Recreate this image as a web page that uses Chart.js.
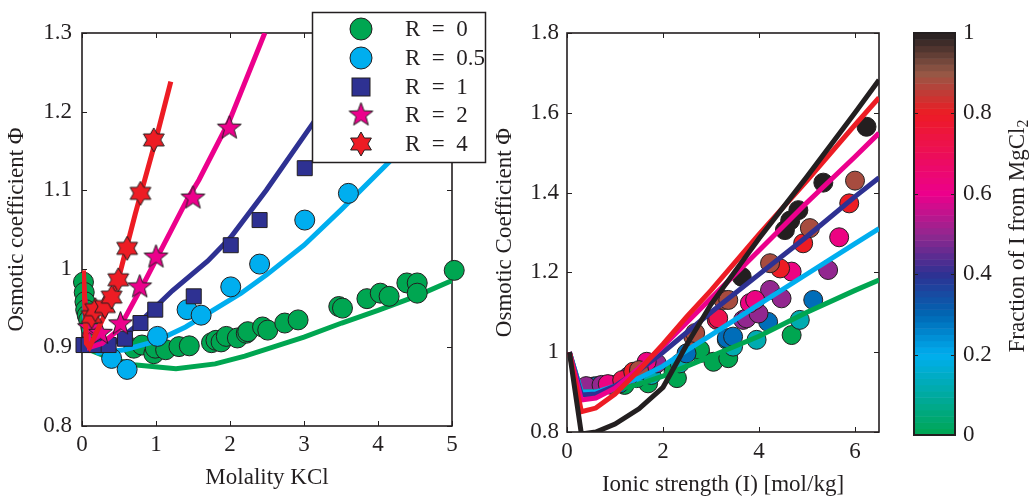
<!DOCTYPE html>
<html>
<head>
<meta charset="utf-8">
<script src="https://cdn.jsdelivr.net/npm/chart.js@4.4.1/dist/chart.umd.min.js"></script>
<style>
  html, body { margin: 0; padding: 0; background: #fff; overflow: hidden; width: 1031px; height: 497px; }
  canvas { position: absolute; top: 0; }
  #left { left: 0; }
  #right { left: 490px; }
  #cbar { left: 900px; }
</style>
</head>
<body>
<canvas id="left" width="490" height="497"></canvas>
<canvas id="right" width="410" height="510"></canvas>
<canvas id="cbar" width="131" height="497"></canvas>
<script>
// ---------- left panel: measured points (molality KCl, osmotic coefficient) ----------
const r0X = [0.02, 0.03, 0.04, 0.05, 0.07, 0.09, 0.12, 0.7, 0.81, 0.97, 0.99, 1.13, 1.31, 1.45,
             1.75, 1.81, 1.88, 1.95, 2.1, 2.22, 2.24, 2.44, 2.51, 2.74, 2.92,
             3.47, 3.52, 3.85, 4.03, 4.15, 4.39, 4.53, 4.53, 5.03];
const r0Y = [0.983, 0.97, 0.958, 0.948, 0.941, 0.935, 0.925, 0.899, 0.903, 0.892, 0.899, 0.897, 0.901, 0.902,
             0.906, 0.909, 0.907, 0.914, 0.912, 0.918, 0.92, 0.926, 0.922, 0.931, 0.935,
             0.952, 0.95, 0.962, 0.969, 0.965, 0.982, 0.982, 0.969, 0.998];
const r05X = [0.4, 0.61, 1.02, 1.42, 1.61, 2.01, 2.4, 3.01, 3.6];
const r05Y = [0.886, 0.872, 0.914, 0.948, 0.941, 0.977, 1.006, 1.062, 1.096];
const r1X = [0.02, 0.09, 0.2, 0.36, 0.58, 0.79, 0.99, 1.51, 2.01, 2.4, 3.01];
const r1Y = [0.903, 0.903, 0.903, 0.903, 0.911, 0.931, 0.948, 0.965, 1.03, 1.062, 1.128];
const r2X = [0.1, 0.25, 0.52, 0.78, 1.0, 1.5, 1.99];
const r2Y = [0.925, 0.918, 0.93, 0.977, 1.015, 1.09, 1.179];
const r4X = [0.13, 0.18, 0.31, 0.4, 0.49, 0.61, 0.79, 0.97];
const r4Y = [0.939, 0.948, 0.952, 0.964, 0.986, 1.026, 1.096, 1.164];

// left panel: model curves
const fit0X = [0.01, 0.05, 0.15, 0.36, 0.7, 1.27, 1.8, 2.2, 2.6, 3.0, 3.51, 4.0, 4.51, 5.0];
const fit0Y = [0.99, 0.915, 0.895, 0.887, 0.878, 0.873, 0.879, 0.889, 0.901, 0.913, 0.931, 0.947, 0.965, 0.985];
const fit05X = [0.01, 0.05, 0.22, 0.58, 1.0, 1.4, 2.15, 2.49, 3.0, 3.5, 4.15, 5.0];
const fit05Y = [0.99, 0.91, 0.893, 0.897, 0.908, 0.926, 0.969, 0.992, 1.03, 1.075, 1.136, 1.225];
const fit1X = [0.01, 0.08, 0.36, 0.7, 1.22, 1.7, 2.01, 2.49, 3.12, 3.6, 4.2];
const fit1Y = [0.99, 0.905, 0.9, 0.925, 0.972, 1.01, 1.04, 1.1, 1.185, 1.25, 1.33];
const fit2X = [0.01, 0.1, 0.27, 0.49, 0.86, 1.42, 1.58, 2.0, 2.47];
const fit2Y = [0.99, 0.9, 0.905, 0.922, 0.986, 1.088, 1.113, 1.19, 1.3];
const fit4X = [0.02, 0.06, 0.1, 0.2, 0.36, 0.5, 0.72, 1.0, 1.2];
const fit4Y = [0.998, 0.905, 0.9, 0.92, 0.952, 0.99, 1.07, 1.165, 1.238];

const legendLabels = ['R\u2002=\u20020', 'R\u2002=\u20020.5', 'R\u2002=\u20021', 'R\u2002=\u20022', 'R\u2002=\u20024'];
const leftXTicks = [0, 1, 2, 3, 4, 5];
const leftYTicks = [0.8, 0.9, 1, 1.1, 1.2, 1.3];

// ---------- right panel: measured points grouped by fraction of I from MgCl2 ----------
const grpFrac = [0, 0.12, 0.29, 0.5, 0.62, 0.72, 0.8, 0.88, 1];
const grpX = [
  [0.45, 0.55, 1.2, 1.69, 2.22, 2.29, 2.77, 2.77, 3.05, 3.36, 4.68],
  [0.5, 0.93, 1.45, 1.76, 2.35, 3.33, 3.46, 3.95, 4.85],
  [0.62, 1.1, 2.49, 3.33, 3.46, 4.19, 5.13],
  [0.4, 0.72, 1.28, 1.87, 3.67, 3.74, 3.99, 4.23, 4.47, 5.44],
  [0.85, 1.66, 3.81, 3.92, 4.68, 5.67],
  [1.15, 3.12, 3.15],
  [1.38, 4.44, 4.92, 5.88],
  [1.5, 2.63, 2.67, 3.26, 3.36, 4.23, 5.06, 6.0],
  [3.64, 4.54, 4.65, 4.82, 5.34, 6.24]
];
const grpY = [
  [0.912, 0.914, 0.918, 0.922, 0.951, 0.935, 0.998, 1.006, 0.976, 0.985, 1.043],
  [0.912, 0.918, 0.935, 0.943, 0.972, 1.031, 1.014, 1.031, 1.081],
  [0.915, 0.922, 0.997, 1.035, 1.039, 1.076, 1.131],
  [0.915, 0.918, 0.939, 0.972, 1.081, 1.085, 1.097, 1.156, 1.135, 1.206],
  [0.92, 0.976, 1.123, 1.131, 1.202, 1.288],
  [0.93, 1.081, 1.085],
  [0.951, 1.21, 1.273, 1.373],
  [0.955, 1.039, 1.048, 1.131, 1.131, 1.223, 1.311, 1.43],
  [1.189, 1.306, 1.33, 1.356, 1.425, 1.565]
];

// right panel: model curves
const curveFrac = [0, 0.2, 0.4, 0.6, 0.8, 1];
const curveX = [0.05, 0.3, 0.6, 1, 1.5, 2, 2.5, 3, 4, 5, 6, 6.5];
const curveY = [
  [1.0, 0.9, 0.9, 0.905, 0.92, 0.94, 0.965, 0.99, 1.04, 1.1, 1.155, 1.181],
  [1.0, 0.9, 0.9, 0.915, 0.935, 0.965, 1.005, 1.043, 1.12, 1.196, 1.272, 1.31],
  [1.0, 0.893, 0.895, 0.915, 0.955, 1.0, 1.05, 1.1, 1.195, 1.29, 1.39, 1.437],
  [1.0, 0.88, 0.885, 0.91, 0.96, 1.015, 1.075, 1.135, 1.255, 1.375, 1.49, 1.549],
  [1.0, 0.851, 0.86, 0.895, 0.955, 1.02, 1.09, 1.155, 1.295, 1.43, 1.57, 1.638],
  [1.0, 0.795, 0.8, 0.82, 0.858, 0.912, 1.02, 1.12, 1.285, 1.44, 1.6, 1.682]
];
const rightXTicks = [0, 2, 4, 6];
const rightYTicks = [0.8, 1, 1.2, 1.4, 1.6, 1.8];
const cbarTicks = [0, 0.2, 0.4, 0.6, 0.8, 1];

// colour map used for the fraction (green -> cyan -> blue -> magenta -> red -> black)
const cmapStops = [0, 0.2, 0.3, 0.4, 0.5, 0.6, 0.8, 0.9, 1];
const cmapRGB = [[0, 166, 81], [0, 174, 239], [0, 102, 179], [46, 49, 146], [146, 39, 143],
                 [236, 0, 140], [237, 28, 36], [150, 88, 70], [35, 31, 32]];

const INK = '#231f20';
const FONT = '"Liberation Serif", "Times New Roman", serif';
Chart.defaults.font.family = FONT;
Chart.defaults.font.size = 23;
Chart.defaults.color = INK;

function colorAt(f) {
  for (let i = 1; i < cmapStops.length; i++) {
    if (f <= cmapStops[i]) {
      const t = (f - cmapStops[i - 1]) / (cmapStops[i] - cmapStops[i - 1]);
      const a = cmapRGB[i - 1], b = cmapRGB[i];
      return 'rgb(' + a.map((v, k) => Math.round(v + (b[k] - v) * t)).join(',') + ')';
    }
  }
  return 'rgb(' + cmapRGB[cmapRGB.length - 1].join(',') + ')';
}

const pts = (xs, ys) => xs.map((x, i) => ({ x: x, y: ys[i] }));
const fmt = v => String(parseFloat(v.toFixed(3)));

// star markers as small canvases
function starImage(n, outer, inner, fill) {
  const s = Math.ceil(outer * 2 + 4);
  const c = document.createElement('canvas');
  c.width = s; c.height = s;
  const g = c.getContext('2d');
  g.beginPath();
  for (let i = 0; i < 2 * n; i++) {
    const r = i % 2 ? inner : outer;
    const a = -Math.PI / 2 + i * Math.PI / n;
    g.lineTo(s / 2 + r * Math.cos(a), s / 2 + r * Math.sin(a));
  }
  g.closePath();
  g.fillStyle = fill; g.fill();
  g.strokeStyle = INK; g.lineWidth = 1; g.stroke();
  return c;
}
const penta = starImage(5, 12.5, 5.2, '#ec008c');
const hexa = starImage(6, 12, 6.9, '#ed1c24');

// frame with inward ticks on all four sides
const frameTicks = {
  id: 'frameTicks',
  beforeDatasetsDraw(chart) {
    const { ctx, chartArea: a, scales: { x, y } } = chart;
    ctx.save();
    ctx.strokeStyle = INK;
    ctx.lineWidth = 1;
    ctx.beginPath();
    x.ticks.forEach(t => {
      const p = Math.round(x.getPixelForValue(t.value)) + 0.5;
      ctx.moveTo(p, a.bottom); ctx.lineTo(p, a.bottom - 5);
      ctx.moveTo(p, a.top); ctx.lineTo(p, a.top + 5);
    });
    y.ticks.forEach(t => {
      const p = Math.round(y.getPixelForValue(t.value)) + 0.5;
      ctx.moveTo(a.left, p); ctx.lineTo(a.left + 5, p);
      ctx.moveTo(a.right, p); ctx.lineTo(a.right - 5, p);
    });
    ctx.stroke();
    ctx.lineWidth = 1.6;
    ctx.strokeRect(a.left, a.top, a.right - a.left, a.bottom - a.top);
    ctx.restore();
  }
};

function axes(xTicks, yTicks, xr, yr, xTitle, yTitle, sz) {
  return {
    x: {
      type: 'linear', min: xr[0], max: xr[1],
      afterBuildTicks: s => { s.ticks = xTicks.map(v => ({ value: v })); },
      afterFit: s => { s.height = sz.xh; },
      grid: { display: false, drawTicks: false },
      border: { display: false },
      ticks: { padding: sz.xpad, callback: fmt, maxRotation: 0 },
      title: { display: true, text: xTitle, padding: { top: 0, bottom: sz.xtp } }
    },
    y: {
      type: 'linear', min: yr[0], max: yr[1],
      afterBuildTicks: s => { s.ticks = yTicks.map(v => ({ value: v })); },
      afterFit: s => { s.width = sz.yw; },
      grid: { display: false, drawTicks: false },
      border: { display: false },
      ticks: { padding: sz.ypad, callback: fmt },
      title: { display: true, text: yTitle, padding: { top: sz.ytp, bottom: 0 } }
    }
  };
}

const baseOpts = {
  responsive: false, animation: false, devicePixelRatio: 1, events: [],
  plugins: { legend: { display: false }, tooltip: { enabled: false } }
};

// ---------- left chart ----------
const leftSeries = [
  { label: legendLabels[0], x: r0X, y: r0Y, fx: fit0X, fy: fit0Y, color: '#00a651', style: 'circle', r: 10 },
  { label: legendLabels[1], x: r05X, y: r05Y, fx: fit05X, fy: fit05Y, color: '#00aeef', style: 'circle', r: 10 },
  { label: legendLabels[2], x: r1X, y: r1Y, fx: fit1X, fy: fit1Y, color: '#2e3192', style: 'rect', r: 10.6 },
  { label: legendLabels[3], x: r2X, y: r2Y, fx: fit2X, fy: fit2Y, color: '#ec008c', style: penta, r: 12 },
  { label: legendLabels[4], x: r4X, y: r4Y, fx: fit4X, fy: fit4Y, color: '#ed1c24', style: hexa, r: 12 }
];
const leftSets = [];
leftSeries.forEach(s => {
  leftSets.push({
    data: pts(s.fx, s.fy), showLine: true, borderColor: s.color, borderWidth: 5,
    pointRadius: 0, tension: 0, fill: false
  });
  leftSets.push({
    data: pts(s.x, s.y), showLine: false, pointStyle: s.style, pointRadius: s.r,
    pointBackgroundColor: s.color, pointBorderColor: INK, pointBorderWidth: 1, clip: false
  });
});
leftSets.forEach((d, i) => { d.order = -i; });

const legendBox = {
  id: 'legendBox',
  afterDraw(chart) {
    const ctx = chart.ctx;
    ctx.save();
    ctx.fillStyle = '#fff';
    ctx.fillRect(312, 12, 174, 151);
    ctx.strokeStyle = INK; ctx.lineWidth = 1.5;
    ctx.strokeRect(312.5, 12.5, 173, 150);
    const rows = [29, 58, 87, 115, 144];
    leftSeries.forEach((s, i) => {
      const cx = 361, cy = rows[i];
      ctx.fillStyle = s.color; ctx.strokeStyle = INK; ctx.lineWidth = 1;
      if (s.style === 'circle') {
        ctx.beginPath(); ctx.arc(cx, cy, 11, 0, Math.PI * 2); ctx.fill(); ctx.stroke();
      } else if (s.style === 'rect') {
        ctx.fillRect(cx - 9, cy - 9, 18, 18); ctx.strokeRect(cx - 9, cy - 9, 18, 18);
      } else {
        ctx.drawImage(s.style, cx - s.style.width / 2, cy - s.style.height / 2);
      }
      ctx.fillStyle = INK;
      ctx.font = '23px ' + FONT;
      ctx.textBaseline = 'middle';
      ctx.fillText(s.label, 405, cy + 1);
    });
    ctx.restore();
  }
};

new Chart(document.getElementById('left'), {
  type: 'scatter',
  data: { datasets: leftSets },
  options: Object.assign({}, baseOpts, {
    layout: { padding: { left: 0, top: 33, right: 38, bottom: 0 } },
    scales: axes(leftXTicks, leftYTicks, [0, 5], [0.8, 1.3], 'Molality KCl', 'Osmotic coefficient \u03A6',
      { xh: 71, xpad: 5, xtp: 5, yw: 82, ypad: 10, ytp: 3 })
  }),
  plugins: [frameTicks, legendBox]
});

// ---------- right chart ----------
const rightSets = [];
grpFrac.forEach((f, i) => {
  rightSets.push({
    data: pts(grpX[i], grpY[i]), showLine: false, pointStyle: 'circle', pointRadius: 9.5,
    pointBackgroundColor: colorAt(f), pointBorderColor: INK, pointBorderWidth: 1, clip: false
  });
});
curveFrac.forEach((f, i) => {
  rightSets.push({
    data: pts(curveX, curveY[i]), showLine: true, borderColor: colorAt(f), borderWidth: 5,
    pointRadius: 0, tension: 0, fill: false
  });
});
rightSets.forEach((d, i) => { d.order = -i; });

new Chart(document.getElementById('right'), {
  type: 'scatter',
  data: { datasets: rightSets },
  options: Object.assign({}, baseOpts, {
    layout: { padding: { left: 0, top: 33, right: 21, bottom: 0 } },
    scales: axes(rightXTicks, rightYTicks, [0, 6.5], [0.8, 1.8], 'Ionic strength (I) [mol/kg]', 'Osmotic Coefficient \u03A6',
      { xh: 78, xpad: 6, xtp: 11, yw: 77, ypad: 8, ytp: 1 })
  }),
  plugins: [frameTicks]
});

// ---------- colour bar ----------
const cbarPlugin = {
  id: 'cbarPlugin',
  beforeDatasetsDraw(chart) {
    const { ctx, chartArea: a, scales: { y } } = chart;
    const n = 64;
    ctx.save();
    for (let i = 0; i < n; i++) {
      const y0 = y.getPixelForValue(i / n), y1 = y.getPixelForValue((i + 1) / n);
      ctx.fillStyle = colorAt((i + 0.5) / n);
      ctx.fillRect(a.left, y1, a.right - a.left, y0 - y1 + 0.5);
    }
    ctx.strokeStyle = INK; ctx.lineWidth = 1;
    ctx.beginPath();
    cbarTicks.forEach(v => {
      const p = Math.round(y.getPixelForValue(v)) + 0.5;
      ctx.moveTo(a.left, p); ctx.lineTo(a.left + 4, p);
      ctx.moveTo(a.right, p); ctx.lineTo(a.right - 4, p);
    });
    ctx.stroke();
    ctx.lineWidth = 2;
    ctx.strokeRect(a.left, a.top, a.right - a.left, a.bottom - a.top);
    // axis title, read bottom to top
    ctx.translate(118, 236);
    ctx.rotate(-Math.PI / 2);
    ctx.fillStyle = INK;
    ctx.textBaseline = 'middle';
    ctx.font = '23px ' + FONT;
    const main = 'Fraction of I from MgCl';
    const w1 = ctx.measureText(main).width;
    ctx.font = '16px ' + FONT;
    const w2 = ctx.measureText('2').width;
    const x0 = -(w1 + w2) / 2;
    ctx.font = '23px ' + FONT;
    ctx.fillText(main, x0, 0);
    ctx.font = '16px ' + FONT;
    ctx.fillText('2', x0 + w1, 6);
    ctx.restore();
  }
};

new Chart(document.getElementById('cbar'), {
  type: 'scatter',
  data: { datasets: [] },
  options: Object.assign({}, baseOpts, {
    layout: { padding: { left: 14, top: 33, right: 0, bottom: 62 } },
    scales: {
      x: { display: false, min: 0, max: 1 },
      y: {
        type: 'linear', position: 'right', min: 0, max: 1,
        afterBuildTicks: s => { s.ticks = cbarTicks.map(v => ({ value: v })); },
        afterFit: s => { s.width = 76; },
        grid: { display: false, drawTicks: false },
        border: { display: false },
        ticks: { padding: 8, callback: fmt }
      }
    }
  }),
  plugins: [cbarPlugin]
});
</script>
</body>
</html>
